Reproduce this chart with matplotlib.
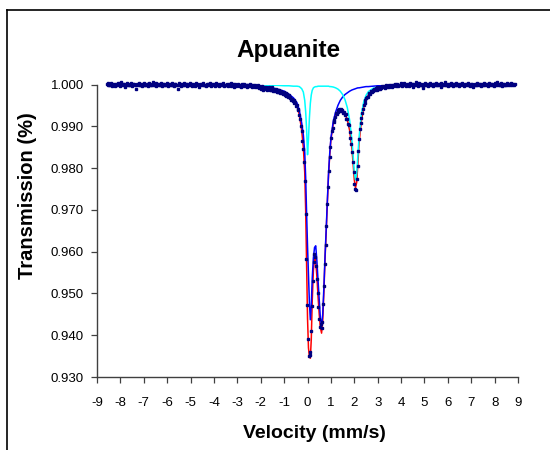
import numpy as np
import matplotlib
matplotlib.use("Agg")
import matplotlib.pyplot as plt
from matplotlib.lines import Line2D

plt.rcParams["font.family"] = ["Liberation Sans", "DejaVu Sans"]
plt.rcParams["axes.unicode_minus"] = False

# MEASURED SPECTRUM (transmission per channel, left to right)
trans_left = [
    1.0001, 0.9998, 1.0003, 0.9999, 1.0000, 1.0004, 0.9997, 1.0002, 0.9999, 1.0001,
    0.9996, 1.0002, 1.0000, 0.9998, 1.0003, 1.0001, 0.9997, 1.0000, 1.0005, 0.9999,
    1.0002, 0.9998, 1.0001, 0.9995, 1.0000, 1.0003, 0.9999, 1.0002, 0.9998, 1.0000,
    1.0004, 0.9999, 0.9997, 1.0001, 1.0002, 0.9998, 1.0000, 0.9989, 1.0001, 0.9999,
    1.0003, 1.0000, 0.9998, 1.0002, 0.9997, 1.0001, 1.0004, 0.9999, 1.0000, 0.9998,
    1.0002, 0.9996, 1.0001, 1.0003, 0.9999, 1.0000, 0.9998, 1.0002, 1.0006, 0.9999,
    1.0000, 1.0003, 0.9997, 1.0001, 0.9999, 1.0002, 0.9998, 1.0000, 1.0004, 0.9996,
    1.0001, 0.9999, 1.0002, 0.9998, 1.0000, 1.0003, 0.9997, 1.0001, 0.9999, 1.0002,
    0.9998, 1.0000, 1.0004, 0.9999, 0.9996, 1.0001, 1.0002, 0.9998, 1.0000, 0.9990,
    1.0003, 0.9999, 1.0001, 0.9997, 1.0002, 1.0000, 0.9998, 1.0003, 0.9999, 1.0001,
    0.9997, 1.0002, 1.0000, 0.9998, 1.0004, 0.9999, 1.0001, 0.9996, 1.0002, 0.9999,
    1.0000, 0.9997, 1.0003, 1.0001, 0.9998, 1.0000, 0.9995, 1.0002, 0.9999, 1.0001,
    0.9998, 1.0003, 0.9999, 1.0000, 0.9997, 1.0002, 0.9998, 1.0001, 0.9999, 1.0004,
    0.9996, 1.0000, 1.0002, 0.9998, 1.0001, 0.9997, 1.0000, 1.0003, 0.9999, 0.9998,
    1.0001, 0.9996, 1.0000, 1.0002, 0.9998, 0.9999, 1.0003, 0.9997, 1.0000, 0.9998,
    1.0002, 0.9999, 0.9996, 1.0001, 0.9998, 1.0003, 0.9997, 0.9999, 1.0001, 0.9995,
    0.9999, 1.0002, 0.9997, 0.9998, 1.0001, 0.9996, 1.0000, 0.9998, 0.9994, 1.0001,
    0.9997, 0.9999, 1.0002, 0.9996, 0.9998, 1.0000, 0.9995, 0.9999, 0.9997, 1.0001,
    0.9996, 0.9998, 0.9993, 0.9999, 0.9997, 0.9995, 1.0000, 0.9996, 0.9994, 0.9998,
]

trans_dip = [
    0.9997, 0.9991, 0.9995, 0.9989, 0.9996, 0.9993, 0.9988, 0.9994, 0.9990, 0.9995,
    0.9987, 0.9992, 0.9990, 0.9994, 0.9986, 0.9991, 0.9988, 0.9993, 0.9985, 0.9990,
    0.9987, 0.9984, 0.9989, 0.9983, 0.9987, 0.9982, 0.9986, 0.9980, 0.9985, 0.9979,
    0.9983, 0.9978, 0.9981, 0.9975, 0.9979, 0.9973, 0.9977, 0.9970, 0.9974, 0.9967,
    0.9970, 0.9963, 0.9966, 0.9960, 0.9962, 0.9955, 0.9957, 0.9949, 0.9950, 0.9941,
    0.9939, 0.9926, 0.9918, 0.9900, 0.9888, 0.9866, 0.9846, 0.9815, 0.9770, 0.9690,
    0.9583, 0.9472, 0.9392, 0.9350, 0.9352, 0.9360, 0.9410, 0.9470, 0.9530, 0.9575,
    0.9594, 0.9588, 0.9565, 0.9535, 0.9500, 0.9468, 0.9438, 0.9420, 0.9428, 0.9418,
    0.9432, 0.9475, 0.9518, 0.9570, 0.9615, 0.9662, 0.9714, 0.9755, 0.9792, 0.9826,
    0.9850, 0.9872, 0.9888, 0.9897, 0.9910, 0.9916, 0.9922, 0.9932, 0.9930, 0.9938,
    0.9935, 0.9941, 0.9937, 0.9942, 0.9936, 0.9939, 0.9932, 0.9935, 0.9928, 0.9929,
    0.9918, 0.9917, 0.9905, 0.9902, 0.9886, 0.9872, 0.9858, 0.9838, 0.9815, 0.9790,
    0.9762, 0.9750, 0.9748, 0.9775, 0.9805, 0.9840, 0.9870, 0.9894, 0.9908, 0.9920,
    0.9931, 0.9941, 0.9951, 0.9956, 0.9962, 0.9967, 0.9971, 0.9970, 0.9978, 0.9979,
    0.9977, 0.9985, 0.9982, 0.9988, 0.9984, 0.9990, 0.9987, 0.9992, 0.9988, 0.9994,
    0.9990,
]

trans_right = [
    0.9993, 0.9990, 0.9995, 0.9992, 0.9996, 0.9993, 0.9997, 0.9994, 0.9992, 0.9998,
    0.9995, 0.9997, 0.9994, 0.9999, 0.9996, 0.9998, 0.9995, 1.0000, 0.9997, 0.9999,
    1.0002, 0.9997, 0.9999, 1.0001, 0.9996, 1.0000, 0.9998, 1.0003, 0.9999, 0.9997,
    1.0001, 1.0004, 0.9998, 1.0000, 0.9996, 1.0002, 0.9999, 1.0001, 0.9997, 1.0003,
    0.9999, 1.0001, 0.9995, 1.0002, 1.0000, 0.9998, 1.0005, 0.9999, 1.0001, 0.9997,
    1.0003, 1.0000, 0.9998, 1.0002, 0.9999, 0.9991, 1.0001, 1.0004, 0.9998, 1.0000,
    1.0002, 0.9997, 1.0001, 0.9999, 1.0003, 0.9998, 1.0000, 1.0002, 0.9996, 1.0001,
    0.9999, 1.0004, 1.0000, 0.9998, 1.0002, 0.9999, 1.0001, 0.9994, 1.0003, 1.0000,
    0.9998, 1.0002, 1.0000, 1.0006, 0.9999, 1.0001, 0.9997, 1.0002, 1.0000, 0.9998,
    1.0003, 0.9999, 1.0001, 0.9997, 1.0002, 1.0000, 0.9998, 1.0004, 0.9999, 1.0001,
    0.9997, 1.0002, 0.9999, 1.0001, 1.0003, 0.9998, 1.0000, 0.9996, 1.0002, 0.9999,
    1.0001, 0.9998, 1.0003, 1.0000, 0.9997, 1.0002, 0.9999, 1.0001, 0.9993, 1.0000,
    1.0002, 0.9999, 1.0000, 1.0004, 0.9998, 1.0001, 0.9999, 1.0002, 0.9997, 1.0001,
    1.0000, 1.0003, 0.9998, 1.0001, 0.9999, 1.0002, 1.0000, 0.9997, 1.0003, 0.9999,
    1.0001, 0.9998, 1.0002, 1.0000, 0.9996, 1.0003, 0.9999, 1.0001, 1.0005, 0.9998,
    1.0002, 1.0000, 0.9999, 1.0003, 0.9997, 1.0001, 0.9999, 1.0002, 1.0000, 0.9998,
    1.0003, 1.0001, 0.9999, 1.0002, 1.0000, 1.0004, 0.9999, 1.0001, 1.0002, 1.0000,
    1.0001,
]

transmission = trans_left + trans_dip + trans_right
# channels are equally spaced in velocity
velocity = np.linspace(-8.58, 8.86, len(transmission))

# FITTED CURVES
fit_velocity = [
    -8.58, -6.0, -4.0, -3.0, -2.5, -2.0, -1.6, -1.3, -1.0, -0.8,
    -0.6, -0.45, -0.35, -0.25, -0.18, -0.12, -0.08, -0.04, 0.0, 0.04,
    0.08, 0.12, 0.16, 0.2, 0.25, 0.3, 0.35, 0.4, 0.45, 0.5,
    0.55, 0.6, 0.65, 0.7, 0.75, 0.8, 0.85, 0.9, 0.95, 1.0,
    1.1, 1.2, 1.3, 1.4, 1.5, 1.6, 1.7, 1.8, 1.9, 1.95,
    2.0, 2.05, 2.1, 2.15, 2.2, 2.3, 2.4, 2.5, 2.6, 2.8,
    3.0, 3.5, 4.0, 6.0, 8.86,
]

fit_total = [
    0.9999, 0.9999, 0.9998, 0.9997, 0.9996, 0.9993, 0.9990, 0.9986, 0.9980, 0.9972,
    0.9962, 0.9948, 0.9928, 0.9890, 0.9850, 0.9790, 0.9700, 0.9570, 0.9440, 0.9370,
    0.9348, 0.9345, 0.9390, 0.9480, 0.9555, 0.9585, 0.9578, 0.9540, 0.9492, 0.9450,
    0.9418, 0.9405, 0.9435, 0.9505, 0.9585, 0.9650, 0.9720, 0.9785, 0.9832, 0.9868,
    0.9906, 0.9927, 0.9937, 0.9940, 0.9937, 0.9930, 0.9916, 0.9890, 0.9845, 0.9810,
    0.9772, 0.9753, 0.9765, 0.9808, 0.9858, 0.9912, 0.9945, 0.9963, 0.9975, 0.9986,
    0.9991, 0.9995, 0.9997, 0.9998, 0.9999,
]

fit_site1 = [
    0.9999, 0.9999, 0.9998, 0.9997, 0.9996, 0.9995, 0.9993, 0.9989, 0.9984, 0.9977,
    0.9968, 0.9956, 0.9938, 0.9908, 0.9880, 0.9838, 0.9778, 0.9692, 0.9612, 0.9545,
    0.9478, 0.9437, 0.9470, 0.9535, 0.9585, 0.9610, 0.9614, 0.9578, 0.9530, 0.9485,
    0.9440, 0.9422, 0.9450, 0.9515, 0.9592, 0.9656, 0.9726, 0.9790, 0.9836, 0.9872,
    0.9912, 0.9934, 0.9950, 0.9962, 0.9970, 0.9976, 0.9980, 0.9984, 0.9987, 0.9988,
    0.9989, 0.9990, 0.9991, 0.9992, 0.9992, 0.9993, 0.9994, 0.9995, 0.9995, 0.9996,
    0.9997, 0.9998, 0.9998, 0.9999, 0.9999,
]

fit_site2 = [
    1.0000, 1.0000, 1.0000, 0.9999, 0.9999, 0.9999, 0.9998, 0.9998, 0.9997, 0.9997,
    0.9996, 0.9996, 0.9995, 0.9990, 0.9982, 0.9962, 0.9935, 0.9893, 0.9832, 0.9870,
    0.9920, 0.9955, 0.9975, 0.9986, 0.9992, 0.9994, 0.9995, 0.9995, 0.9996, 0.9996,
    0.9996, 0.9996, 0.9996, 0.9996, 0.9996, 0.9996, 0.9996, 0.9996, 0.9995, 0.9995,
    0.9994, 0.9992, 0.9989, 0.9984, 0.9976, 0.9964, 0.9945, 0.9915, 0.9866, 0.9830,
    0.9790, 0.9772, 0.9786, 0.9828, 0.9872, 0.9928, 0.9958, 0.9974, 0.9983, 0.9991,
    0.9994, 0.9997, 0.9998, 0.9999, 1.0000,
]

x_ticks = list(range(-9, 10))
y_ticks = [0.930, 0.940, 0.950, 0.960, 0.970, 0.980, 0.990, 1.000]

# PLOT
fig = plt.figure(figsize=(5.5, 4.5), dpi=100)
ax = fig.add_axes([0.1764, 0.1622, 0.7655, 0.65])

ax.plot(fit_velocity, fit_total, color="#ff0000", lw=1.1, zorder=2)
ax.plot(fit_velocity, fit_site1, color="#0000ff", lw=1.1, zorder=3)
ax.plot(fit_velocity, fit_site2, color="#00ffff", lw=1.1, zorder=4)
ax.plot(velocity, transmission, ls="none", marker="s", markersize=1.8,
        color="#000080", zorder=5, clip_on=False)

ax.set_xlim(-9, 9)
ax.set_ylim(0.930, 1.000)
ax.set_xticks(x_ticks)
ax.set_yticks(y_ticks)
ax.set_yticklabels([f"{v:.3f}" for v in y_ticks])

for side in ["top", "right"]:
    ax.spines[side].set_visible(False)
for side in ["left", "bottom"]:
    ax.spines[side].set_color("#404040")
    ax.spines[side].set_linewidth(1.0)

ax.tick_params(axis="both", direction="out", length=4.5, width=0.9,
               color="#404040", labelsize=9.5)
ax.tick_params(axis="x", pad=10)
ax.tick_params(axis="y", pad=5)

fig.text(288 / 550, 1 - 51 / 450, "Apuanite", fontsize=17.5, fontweight="bold",
         ha="center", va="center")
fig.text(314 / 550, 1 - 434 / 450, "Velocity (mm/s)", fontsize=14,
         fontweight="bold", ha="center", va="center")
fig.text(28 / 550, 1 - 196 / 450, "Transmission (%)", fontsize=14.5,
         fontweight="bold", ha="center", va="center", rotation=90)

# chart frame (left and top edges visible)
fig.add_artist(Line2D([7 / 550, 7 / 550], [0, 1 - 10 / 450],
                      transform=fig.transFigure, color="black", lw=1.2))
fig.add_artist(Line2D([7 / 550, 1], [1 - 10 / 450, 1 - 10 / 450],
                      transform=fig.transFigure, color="black", lw=1.2))

fig.savefig("out.png", dpi=100)
